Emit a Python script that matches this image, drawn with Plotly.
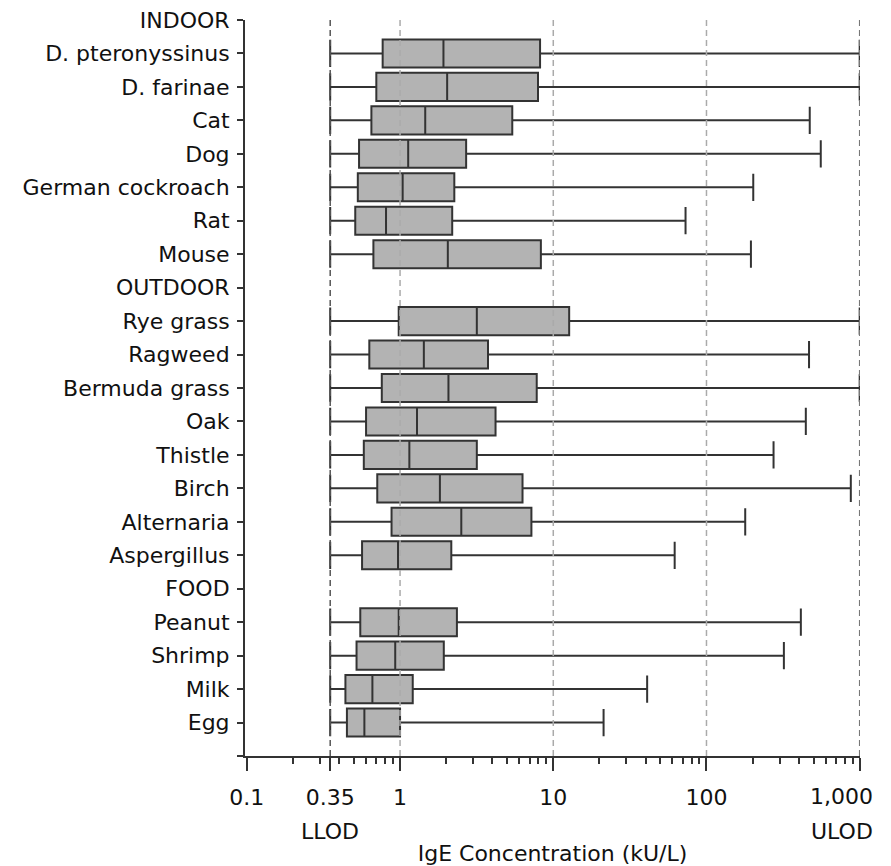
import numpy as np
import plotly.graph_objects as go

# Allergen groups, listed top to bottom
group_names = ["INDOOR", "OUTDOOR", "FOOD"]
indoor = ["D. pteronyssinus", "D. farinae", "Cat", "Dog", "German cockroach", "Rat", "Mouse"]
outdoor = ["Rye grass", "Ragweed", "Bermuda grass", "Oak", "Thistle", "Birch",
           "Alternaria", "Aspergillus"]
food = ["Peanut", "Shrimp", "Milk", "Egg"]

# Box statistics (kU/L), same order as indoor + outdoor + food
lower = [0.35] * 19
q1 = [0.77, 0.70, 0.65, 0.54, 0.53, 0.51, 0.67,
      0.98, 0.63, 0.76, 0.60, 0.58, 0.71, 0.88, 0.565,
      0.55, 0.52, 0.44, 0.45]
median = [1.92, 2.03, 1.46, 1.13, 1.04, 0.81, 2.05,
          3.17, 1.43, 2.07, 1.29, 1.15, 1.82, 2.51, 0.97,
          0.98, 0.93, 0.66, 0.585]
q3 = [8.2, 7.95, 5.4, 2.7, 2.26, 2.19, 8.3,
      12.7, 3.75, 7.8, 4.2, 3.17, 6.3, 7.2, 2.16,
      2.35, 1.93, 1.21, 1.0]
upper = [1000, 1000, 472, 557, 202, 73, 195,
         1000, 467, 1000, 445, 274, 875, 179, 62,
         413, 320, 41, 21.3]

# Axis ticks and detection limits
x_tickvals = [0.1, 0.35, 1, 10, 100, 1000]
x_ticktext = ["0.1", "0.35", "1", "10", "100", ""]
x_minor = [m * 10.0 ** e for e in range(-1, 3) for m in range(2, 10)]
# captions under the axis: (value, text, vertical position, horizontal nudge)
captions = [(0.35, "LLOD", -0.103, 0),
            (1000, "1,000", -0.0557, -18),
            (1000, "ULOD", -0.103, -18)]
ref_lines = [0.35, 1, 10, 100, 1000]
ref_colors = ["#555555", "#aaaaaa", "#aaaaaa", "#aaaaaa", "#777777"]

# Build row positions: each group header occupies its own row
row_labels = []
row_pos = []
pos = 0
for name, members in zip(group_names, [indoor, outdoor, food]):
    row_labels.append(name)
    pos += 1
    for m in members:
        row_labels.append(m)
        row_pos.append(pos)
        pos += 1
n_rows = pos  # one blank slot at the bottom of the axis

FONT = "DejaVu Sans"
FS = 22
DARK = "#333333"

fig = go.Figure()
fig.add_trace(go.Box(
    y=row_pos, q1=q1, median=median, q3=q3,
    lowerfence=lower, upperfence=upper,
    orientation="h", width=0.84, whiskerwidth=0.97,
    fillcolor="#b3b3b3",
    line=dict(color=DARK, width=2),
    boxpoints=False, showlegend=False, hoverinfo="skip",
))

# dashed reference lines at the detection limits and each decade
for v, c in zip(ref_lines, ref_colors):
    fig.add_shape(type="line", xref="x", yref="y",
                  x0=v, x1=v, y0=0, y1=n_rows,
                  line=dict(color=c, width=1.5, dash="6px,4px"), layer="above")

# detection-limit captions and the last tick label
for v, t, yy, dx in captions:
    fig.add_annotation(x=np.log10(v), xref="x", y=yy, yref="paper",
                       text=t, showarrow=False, yanchor="middle", xshift=dx,
                       font=dict(family=FONT, size=FS, color="#111111"))

fig.update_layout(
    width=891, height=866,
    margin=dict(l=245, r=31, t=20, b=110),
    paper_bgcolor="white", plot_bgcolor="white",
    font=dict(family=FONT, size=FS, color="#111111"),
    xaxis=dict(
        type="log", range=[-1.012, 3.002], automargin=False,
        tickvals=x_tickvals, ticktext=x_ticktext,
        ticks="outside", ticklen=13, tickwidth=1.5, tickcolor=DARK,
        showline=True, linewidth=2, linecolor=DARK,
        showgrid=False, zeroline=False,
        minor=dict(tickvals=x_minor, ticks="outside", ticklen=6,
                   tickwidth=1.5, tickcolor=DARK, showgrid=False),
        ticklabelstandoff=8,
        title=dict(text="IgE Concentration (kU/L)", standoff=36,
                   font=dict(size=FS)),
        tickfont=dict(size=FS),
    ),
    yaxis=dict(
        range=[n_rows, 0], automargin=False,
        tickvals=list(range(n_rows + 1)),
        ticktext=row_labels + [""],
        ticks="outside", ticklen=6, tickwidth=1.5, tickcolor=DARK,
        showline=True, linewidth=2, linecolor=DARK,
        showgrid=False, zeroline=False,
        ticklabelstandoff=3,
        tickfont=dict(size=FS),
    ),
)

fig.write_html("out.html")
